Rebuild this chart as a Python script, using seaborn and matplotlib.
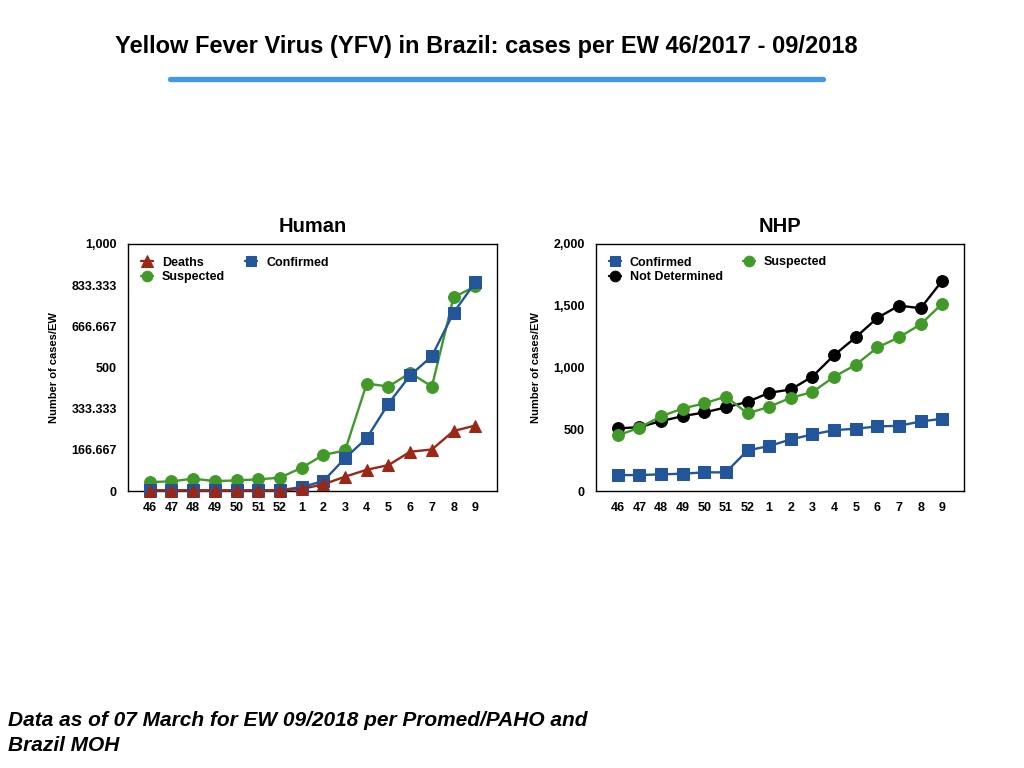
import matplotlib
matplotlib.use("Agg")
import matplotlib.pyplot as plt
import seaborn as sns
import numpy as np
import pandas as pd

# epidemiological weeks 46/2017 .. 09/2018
weeks = ["46", "47", "48", "49", "50", "51", "52", "1", "2", "3", "4", "5", "6", "7", "8", "9"]

# Human cases per EW
human_deaths = [2, 2, 2, 2, 2, 2, 2, 8, 27, 58, 86, 105, 159, 168, 243, 265]
human_suspected = [36, 39, 50, 40, 43, 47, 54, 94, 146, 164, 435, 423, 478, 423, 784, 829]
human_confirmed = [3, 3, 3, 3, 3, 3, 3, 16, 40, 133, 214, 354, 468, 546, 722, 845]

# NHP (non-human primates) per EW
nhp_confirmed = [129, 129, 135, 140, 151, 151, 329, 364, 418, 458, 493, 504, 523, 528, 563, 585]
nhp_not_determined = [507, 517, 566, 606, 636, 677, 722, 795, 822, 927, 1100, 1245, 1402, 1501, 1480, 1704]
nhp_suspected = [450, 512, 604, 668, 709, 765, 628, 682, 755, 801, 925, 1022, 1162, 1245, 1350, 1518]

human_ticks = [0, 166.667, 333.333, 500, 666.667, 833.333, 1000]
human_ticklabels = ["0", "166.667", "333.333", "500", "666.667", "833.333", "1,000"]
nhp_ticks = [0, 500, 1000, 1500, 2000]
nhp_ticklabels = ["0", "500", "1,000", "1,500", "2,000"]

RED = "#9b2716"
GREEN = "#419a28"
BLUE = "#23559a"
BLACK = "#000000"

sns.set_style("white")
plt.rcParams["font.family"] = ["Liberation Sans", "DejaVu Sans"]
plt.rcParams["text.color"] = "black"
plt.rcParams["axes.labelcolor"] = "black"
plt.rcParams["xtick.color"] = "black"
plt.rcParams["ytick.color"] = "black"

fig = plt.figure(figsize=(10.24, 7.68), dpi=100)

x = np.arange(len(weeks))


def draw_panel(ax, series, title, ticks, ticklabels, ymax):
    # series: (name, values, color, marker, size, zorder)
    for name, vals, color, marker, ms, z in series:
        df = pd.DataFrame({"x": x, "y": vals})
        sns.lineplot(data=df, x="x", y="y", ax=ax, color=color, marker=marker,
                     markersize=ms, markeredgecolor=color, linewidth=1.7, label=name,
                     clip_on=False, zorder=z)
    ax.set_xlim(-1, 16)
    ax.set_ylim(0, ymax)
    ax.set_xticks(x)
    ax.set_xticklabels(weeks, fontsize=9, fontweight="bold")
    ax.set_yticks(ticks)
    ax.set_yticklabels(ticklabels, fontsize=9, fontweight="bold")
    ax.tick_params(axis="both", length=0)
    ax.tick_params(axis="x", pad=8)
    ax.tick_params(axis="y", pad=8)
    ax.set_xlabel("")
    ax.set_ylabel("Number of cases/EW", fontsize=8, fontweight="bold", labelpad=9)
    ax.set_title(title, fontsize=14.5, fontweight="bold", pad=9)
    for sp in ax.spines.values():
        sp.set_color("black")
        sp.set_linewidth(1.0)
    ax.grid(False)
    ax.legend(loc="upper left", ncol=2, frameon=False,
              prop={"weight": "bold", "size": 9}, handlelength=1.0,
              handletextpad=0.7, columnspacing=1.6, labelspacing=0.2,
              borderaxespad=0.6, markerscale=0.9)


# Human panel: axes 128..497 x, 244..491 y
ax1 = fig.add_axes([128 / 1024, 1 - 491 / 768, 369 / 1024, 247 / 768])
draw_panel(ax1, [
    ("Deaths", human_deaths, RED, "^", 9, 5),
    ("Suspected", human_suspected, GREEN, "o", 8.5, 3),
    ("Confirmed", human_confirmed, BLUE, "s", 8, 4),
], "Human", human_ticks, human_ticklabels, 1000)

# NHP panel: axes 596..964 x
ax2 = fig.add_axes([596 / 1024, 1 - 491 / 768, 368 / 1024, 247 / 768])
draw_panel(ax2, [
    ("Confirmed", nhp_confirmed, BLUE, "s", 8, 4),
    ("Not Determined", nhp_not_determined, BLACK, "o", 8.5, 3),
    ("Suspected", nhp_suspected, GREEN, "o", 8.5, 3.5),
], "NHP", nhp_ticks, nhp_ticklabels, 2000)

# main title + blue rule
fig.text(486 / 1024, 1 - 46 / 768, "Yellow Fever Virus (YFV) in Brazil: cases per EW 46/2017 - 09/2018",
         ha="center", va="center", fontsize=17, fontweight="bold")
fig.add_artist(plt.Line2D([170 / 1024, 823 / 1024], [1 - 79 / 768, 1 - 79 / 768],
                          color="#4098ec", linewidth=3.8, transform=fig.transFigure))

# footnote
fig.text(8 / 1024, 1 - 733 / 768, "Data as of 07 March for EW 09/2018 per Promed/PAHO and\nBrazil MOH",
         ha="left", va="center", fontsize=15, fontweight="bold", fontstyle="italic",
         linespacing=1.4)

fig.savefig("out.png", dpi=100)
